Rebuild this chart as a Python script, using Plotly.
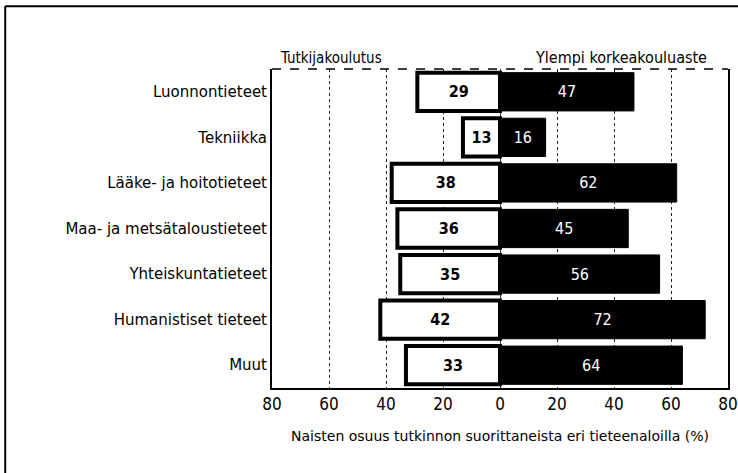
import plotly.graph_objects as go

# Data
alat = ['Luonnontieteet', 'Tekniikka', 'Lääke- ja hoitotieteet', 'Maa- ja metsätaloustieteet',
        'Yhteiskuntatieteet', 'Humanistiset tieteet', 'Muut']
tutkijakoulutus = [29, 13, 38, 36, 35, 42, 33]
ylempi = [47, 16, 62, 45, 56, 72, 64]
tick_vals = [-80, -60, -40, -20, 0, 20, 40, 60, 80]
tick_text = ['80', '60', '40', '20', '0', '20', '40', '60', '80']

font = 'DejaVu Sans, sans-serif'
font_c = 'DejaVu Sans Condensed, DejaVu Sans, sans-serif'

fig = go.Figure()
fig.add_trace(go.Bar(
    y=alat, x=[-v for v in tutkijakoulutus], orientation='h',
    marker=dict(color='white', line=dict(color='black', width=4)),
    text=[str(v) for v in tutkijakoulutus], textposition='inside', insidetextanchor='middle',
    textfont=dict(color='black', size=16, family=font_c, weight='bold'),
    showlegend=False, hoverinfo='skip'))
fig.add_trace(go.Bar(
    y=alat, x=ylempi, orientation='h',
    marker=dict(color='black', line=dict(color='black', width=1)),
    text=[str(v) for v in ylempi], textposition='inside', insidetextanchor='middle',
    textfont=dict(color='white', size=16, family=font_c),
    showlegend=False, hoverinfo='skip'))

fig.update_layout(
    width=738, height=473,
    margin=dict(l=272, r=10, t=69, b=85),
    paper_bgcolor='white', plot_bgcolor='white',
    barmode='overlay', bargap=0.16,
    font=dict(family=font, color='black'),
    uniformtext=dict(mode='show', minsize=10),
)
fig.update_xaxes(
    range=[-80, 80], tickvals=tick_vals, ticktext=tick_text, automargin=False,
    tickfont=dict(size=17, family=font_c), ticks='',
    showgrid=True, gridcolor='#222', griddash='dot', gridwidth=1,
    zeroline=True, zerolinecolor='#444', zerolinewidth=1,
    showline=True, linecolor='black', linewidth=2, mirror=False,
    title=dict(text='Naisten osuus tutkinnon suorittaneista eri tieteenaloilla (%)',
               font=dict(size=14, family=font), standoff=18),
)
fig.update_yaxes(
    autorange='reversed', tickfont=dict(size=15, family=font), ticks='', automargin=False,
    showline=True, linecolor='black', linewidth=2, mirror=True, showgrid=False,
)

# otsikot
fig.add_annotation(x=0.13, y=1.0, xref='paper', yref='paper', text='Tutkijakoulutus',
                   showarrow=False, yanchor='bottom', xanchor='center',
                   font=dict(size=15, family=font_c))
fig.add_annotation(x=0.765, y=1.0, xref='paper', yref='paper', text='Ylempi korkeakouluaste',
                   showarrow=False, yanchor='bottom', xanchor='center',
                   font=dict(size=16, family=font_c))

# katkoviiva ylhäällä
fig.add_shape(type='line', xref='paper', yref='paper', x0=0, x1=1, y0=1, y1=1,
              line=dict(color='black', width=1.5, dash='dash'))

# kehys
fig.add_shape(type='line', xref='paper', yref='paper', x0=-0.585, x1=-0.585, y0=-0.3, y1=1.197,
              line=dict(color='black', width=2))
fig.add_shape(type='line', xref='paper', yref='paper', x0=-0.585, x1=1.05, y0=1.197, y1=1.197,
              line=dict(color='black', width=2))

fig.write_html('out.html', config={'displayModeBar': False},
               post_script="document.body.style.margin='0';")
